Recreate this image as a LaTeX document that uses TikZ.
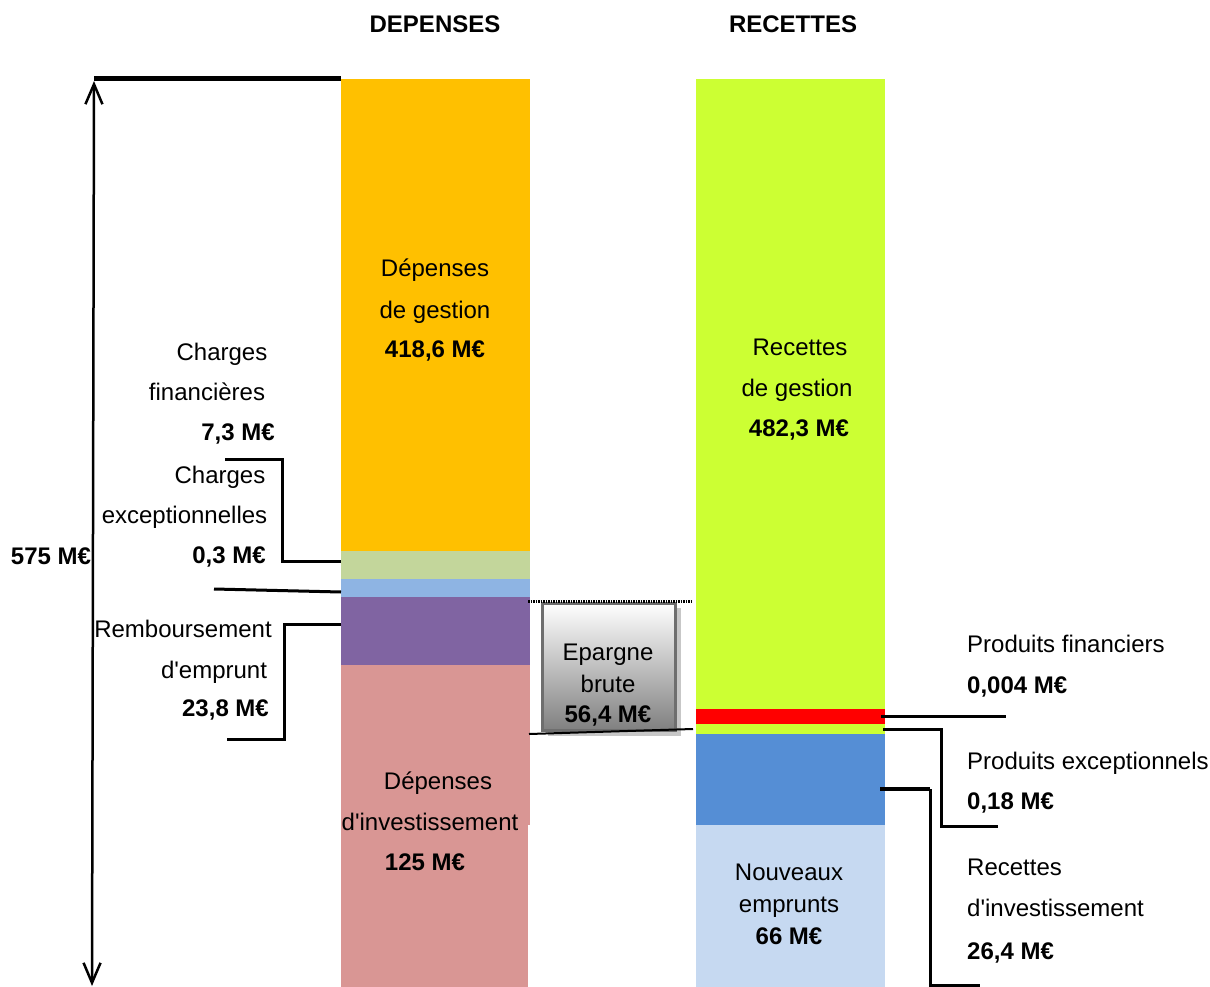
\documentclass[tikz,border=0pt]{standalone}
\usepackage{fontspec}
\setmainfont{Liberation Sans}[Ligatures=TeXOff]
\usetikzlibrary{arrows.meta}
\definecolor{cOrange}{HTML}{FFC000}
\definecolor{cGreen}{HTML}{C3D69B}
\definecolor{cBlue}{HTML}{8EB4E3}
\definecolor{cPurple}{HTML}{8064A2}
\definecolor{cPink}{HTML}{D99694}
\definecolor{cLime}{HTML}{CCFF33}
\definecolor{cRed}{HTML}{FF0000}
\definecolor{cMidBlue}{HTML}{558ED5}
\definecolor{cPale}{HTML}{C6D9F1}
\definecolor{cBoxEdge}{HTML}{6E6E6E}
\begin{document}
\begin{tikzpicture}[x=1pt,y=-1pt,
  lbl/.style={font=\fontsize{24}{28}\selectfont, inner sep=0pt, anchor=base},
  blbl/.style={font=\fontsize{24}{28}\selectfont\bfseries, inner sep=0pt, anchor=base},
  rlbl/.style={lbl, anchor=base west},
  rblbl/.style={blbl, anchor=base west},
  lead/.style={line width=3pt},
]
\useasboundingbox (0,0) rectangle (1210,987);

% titles
\node[blbl] (tdep) at (435,33) {DEPENSES};
\node[blbl] (trec) at (793,33) {RECETTES};

% left bar
\fill[cOrange] (341,79) rectangle (530,551);
\fill[cGreen] (341,551) rectangle (530,579);
\fill[cBlue] (341,579) rectangle (530,597);
\fill[cPurple] (341,597) rectangle (530,665);
\fill[cPink] (341,665) rectangle (530,825);
\fill[cPink] (341,825) rectangle (528,987);

% right bar
\fill[cLime] (696,79) rectangle (885,709);
\fill[cRed] (696,709) rectangle (885,724);
\fill[cLime] (696,724) rectangle (885,734);
\fill[cMidBlue] (696,734) rectangle (885,825);
\fill[cPale] (696,825) rectangle (885,987);

% named coordinates
\coordinate (topL) at (94,79);
\coordinate (topR) at (341,79);
\coordinate (arrTop) at (94,81);
\coordinate (arrBot) at (92,986);

% total span
\draw[line width=5pt] (topL) -- (topR);
\draw[line width=2.5pt, {Straight Barb[length=20pt,width=17pt]}-{Straight Barb[length=20pt,width=17pt]}] (arrTop) -- (arrBot);
\node[blbl] (total) at (51,564) {575 M€};

% left bar texts
\node[lbl] (dg1) at (435,276) {Dépenses};
\node[lbl] (dg2) at (435,318) {de gestion};
\node[blbl] (dg3) at (435,357) {418,6 M€};
\node[lbl] (di1) at (438,789) {Dépenses};
\node[lbl] (di2) at (430,830) {d'investissement};
\node[blbl] (di3) at (425,870) {125 M€};

% left labels
\node[lbl] (cf1) at (222,360) {Charges};
\node[lbl] (cf2) at (207,400) {financières};
\node[blbl] (cf3) at (238,440) {7,3 M€};
\node[lbl] (ce1) at (220,483) {Charges};
\node[lbl] (ce2) at (184.5,523) {exceptionnelles};
\node[blbl] (ce3) at (229,563) {0,3 M€};
\node[lbl] (re1) at (183,637) {Remboursement};
\node[lbl] (re2) at (214,678) {d'emprunt};
\node[blbl] (re3) at (225.5,716) {23,8 M€};

% left leaders
\coordinate (ceA) at (341,561);
\coordinate (ceB) at (282,561);
\coordinate (ceC) at (282,459);
\coordinate (ceD) at (225,459);
\draw[lead] (ceA) -- (ceB) -- (ceC) -- (ceD);
\coordinate (cfA) at (341,592);
\coordinate (cfB) at (214,589);
\draw[lead] (cfA) -- (cfB);
\coordinate (reA) at (341,624);
\coordinate (reB) at (284,624);
\coordinate (reC) at (284,739);
\coordinate (reD) at (227,739);
\draw[lead] (reA) -- (reB) -- (reC) -- (reD);

% epargne brute
\coordinate (epTL) at (528,601);
\coordinate (epTR) at (693,601);
\coordinate (epBL) at (529,734);
\coordinate (epBR) at (693,729);
\fill[black!22] (548,608) rectangle (681,736);
\node[draw=cBoxEdge, line width=3pt, top color=white, bottom color=black!50,
      minimum width=133pt, minimum height=127pt, inner sep=0pt] (ep) at (608.5,666.5) {};
\draw[line width=3pt, dash pattern=on 1.5pt off 1pt] (epTL) -- (epTR);
\draw[line width=2pt] (epBL) -- (epBR);
\node[lbl] (ep1) at (608,660) {Epargne};
\node[lbl] (ep2) at (608,692) {brute};
\node[blbl] (ep3) at (608,722) {56,4 M€};

% right bar texts
\node[lbl] (rg1) at (800,355) {Recettes};
\node[lbl] (rg2) at (797,396) {de gestion};
\node[blbl] (rg3) at (799,436) {482,3 M€};
\node[lbl] (ne1) at (789,880) {Nouveaux};
\node[lbl] (ne2) at (789,912) {emprunts};
\node[blbl] (ne3) at (789,944) {66 M€};

% right labels
\node[rlbl] (pf1) at (967,652) {Produits financiers};
\node[rblbl] (pf2) at (967,693) {0,004 M€};
\node[rlbl] (px1) at (967,769) {Produits exceptionnels};
\node[rblbl] (px2) at (967,809) {0,18 M€};
\node[rlbl] (ri1) at (967,875) {Recettes};
\node[rlbl] (ri2) at (967,916) {d'investissement};
\node[rblbl] (ri3) at (967,959) {26,4 M€};

% right leaders
\coordinate (pfA) at (881,716);
\coordinate (pfB) at (1006,716);
\draw[lead] (pfA) -- (pfB);
\coordinate (pxA) at (883,729);
\coordinate (pxB) at (941,729);
\coordinate (pxC) at (941,826);
\coordinate (pxD) at (998,826);
\draw[lead] (pxA) -- (pxB) -- (pxC) -- (pxD);
\coordinate (riA) at (880,789);
\coordinate (riB) at (930,789);
\coordinate (riC) at (930,985);
\coordinate (riD) at (980,985);
\draw[line width=4.5pt] (riA) -- (riB);
\draw[lead] (riB) -- (riC) -- (riD);
\end{tikzpicture}
\end{document}
